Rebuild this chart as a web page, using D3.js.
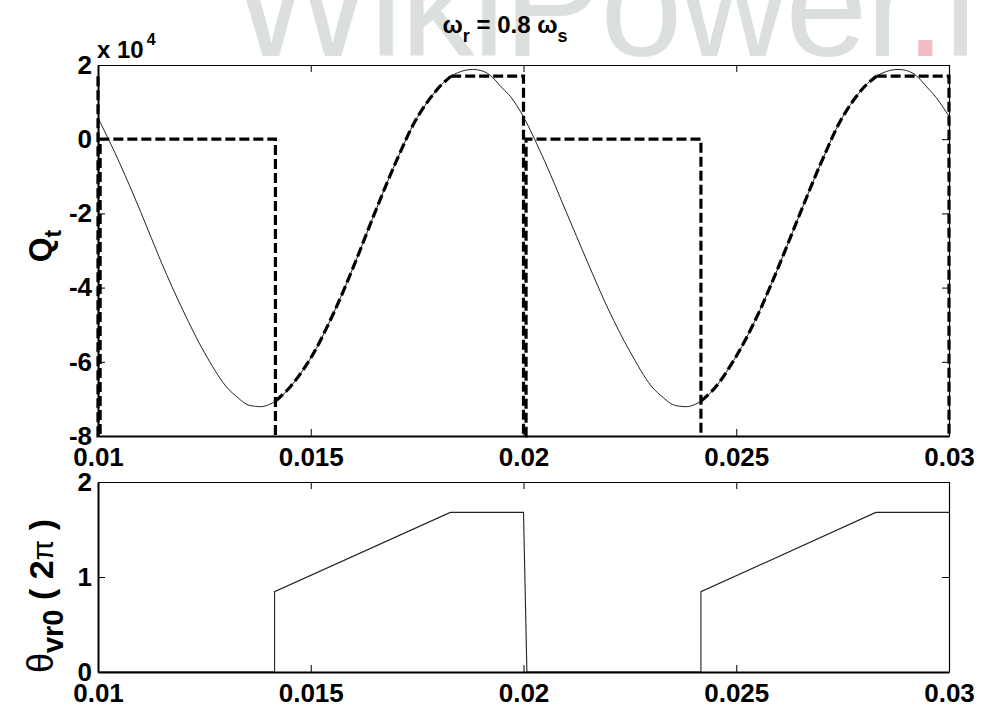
<!DOCTYPE html>
<html><head><meta charset="utf-8">
<script src="https://cdn.jsdelivr.net/npm/d3@7"></script>
<style>
body{margin:0;background:#fff}
svg{display:block}
</style>
</head><body>
<svg id="c" width="981" height="711"></svg>
<script>
// ---------------- data ----------------
const xTicks = [0.01, 0.015, 0.02, 0.025, 0.03];
const xTickLabels = ["0.01", "0.015", "0.02", "0.025", "0.03"];
const qTicks = [2, 0, -2, -4, -6, -8];
const thetaTicks = [0, 1, 2];

// Q_t (x 10^4), solid thin curve
const qT = [0.01, 0.0105, 0.011, 0.0115, 0.012, 0.0125, 0.013, 0.0133, 0.0135, 0.0137, 0.0139, 0.01417,
  0.0145, 0.015, 0.0155, 0.016, 0.0165, 0.017, 0.0175, 0.018, 0.0183, 0.0186, 0.0188, 0.019, 0.0192, 0.0195, 0.0197, 0.02,
  0.0205, 0.021, 0.0215, 0.022, 0.0225, 0.023, 0.0233, 0.0235, 0.0237, 0.0239, 0.02417,
  0.0245, 0.025, 0.0255, 0.026, 0.0265, 0.027, 0.0275, 0.028, 0.0283, 0.0286, 0.0288, 0.029, 0.0292, 0.0295, 0.0297, 0.03];
const qV = [0.58, -0.62, -1.95, -3.35, -4.62, -5.75, -6.65, -6.98, -7.15, -7.2, -7.2, -7.06,
  -6.7, -5.9, -4.78, -3.45, -2.0, -0.62, 0.58, 1.38, 1.70, 1.85, 1.88, 1.85, 1.74, 1.38, 1.14, 0.6,
  -0.6, -1.95, -3.3, -4.6, -5.72, -6.65, -6.98, -7.15, -7.2, -7.2, -7.06,
  -6.7, -5.85, -4.75, -3.42, -2.0, -0.62, 0.6, 1.4, 1.70, 1.85, 1.88, 1.85, 1.74, 1.38, 1.12, 0.62];

// Reference (thick dashed): step parts, and the curve-following windows
const refStepT = [
  [0.01, 0.01, 0.01005, 0.01005, 0.01417, 0.01417],
  [0.0183, 0.02, 0.02, 0.02006, 0.02006, 0.02417, 0.02417],
  [0.0283, 0.03, 0.03]
];
const refStepV = [
  [1.70, -8, -8, 0, 0, -8],
  [1.70, 1.70, -8, -8, 0, 0, -8],
  [1.70, 1.70, -8]
];
const refFollowStart = [0.01417, 0.02417];
const refFollowEnd = [0.0183, 0.0283];

// theta_vr0 in units of 2*pi
const thT = [0.01, 0.01415, 0.01415, 0.01828, 0.02, 0.02008, 0.02417, 0.02417, 0.02828, 0.03];
const thV = [0, 0, 0.845, 1.68, 1.68, 0, 0, 0.845, 1.68, 1.68];

// ---------------- layout ----------------
const svg = d3.select("#c");
const FONT = "'Liberation Sans', Arial, sans-serif";
const L = 98, R = 949;
const top1 = 65, bot1 = 436;
const top2 = 482, bot2 = 672;

const x = d3.scaleLinear().domain([0.01, 0.03]).range([L, R]);
const yQ = d3.scaleLinear().domain([-8, 2]).range([bot1, top1]);
const yT = d3.scaleLinear().domain([0, 2]).range([bot2, top2]);

// ---------------- watermark ----------------
const wm = svg.append("text")
  .attr("x", 232).attr("y", 56)
  .attr("font-family", "'Liberation Sans', Arial, sans-serif")
  .attr("font-size", 148)
  .attr("letter-spacing", -2)
  .attr("fill", "#dce0dc");
wm.append("tspan").text("WikiPower");
wm.append("tspan").attr("fill", "#f2bcc4").text(".");
wm.append("tspan").text("in");

// ---------------- helpers ----------------
function styleAxis(g, w) {
  g.attr("font-family", FONT).attr("font-size", 26).attr("font-weight", "bold");
  g.select(".domain").attr("stroke", "#000").attr("stroke-width", w);
  g.selectAll(".tick line").attr("stroke", "#000").attr("stroke-width", 1);
  g.selectAll(".tick text").attr("fill", "#000");
}

function frame(y, yTicks, yTop, yBot) {
  const gb = svg.append("g").attr("transform", `translate(0,${yBot})`)
    .call(d3.axisBottom(x).tickValues(xTicks).tickFormat((d, i) => xTickLabels[i])
      .tickSize(-7).tickSizeOuter(0).tickPadding(12));
  styleAxis(gb, 2);
  const gt = svg.append("g").attr("transform", `translate(0,${yTop})`)
    .call(d3.axisTop(x).tickValues(xTicks).tickFormat("").tickSize(-7).tickSizeOuter(0));
  styleAxis(gt, 1.2);
  const gl = svg.append("g").attr("transform", `translate(${L},0)`)
    .call(d3.axisLeft(y).tickValues(yTicks).tickFormat(d3.format("d")).tickSize(-7).tickSizeOuter(0).tickPadding(6));
  styleAxis(gl, 2);
  gl.selectAll(".tick text").text(d => d < 0 ? "-" + Math.abs(d) : d);
  const gr = svg.append("g").attr("transform", `translate(${R},0)`)
    .call(d3.axisRight(y).tickValues(yTicks).tickFormat("").tickSize(-7).tickSizeOuter(0));
  styleAxis(gr, 1.2);
}

// clip paths
const defs = svg.append("defs");
defs.append("clipPath").attr("id", "clip1").append("rect")
  .attr("x", L - 2).attr("y", top1 - 2).attr("width", R - L + 4).attr("height", bot1 - top1 + 4);
defs.append("clipPath").attr("id", "clip2").append("rect")
  .attr("x", L - 2).attr("y", top2 - 2).attr("width", R - L + 4).attr("height", bot2 - top2 + 4);

// ---------------- top plot ----------------
const qData = qT.map((t, i) => [t, qV[i]]);
const curveLine = d3.line().x(d => x(d[0])).y(d => yQ(d[1])).curve(d3.curveCatmullRom.alpha(0.5));
const linLine = d3.line().x(d => x(d[0])).y(d => yQ(d[1]));

const p1 = svg.append("g").attr("clip-path", "url(#clip1)");
p1.append("path").datum(qData).attr("d", curveLine)
  .attr("fill", "none").attr("stroke", "#222").attr("stroke-width", 1);

const dashStyle = sel => sel.attr("fill", "none").attr("stroke", "#000")
  .attr("stroke-width", 3.2).attr("stroke-dasharray", "10,4");
refStepT.forEach((ts, k) => {
  p1.append("path").datum(ts.map((t, i) => [t, refStepV[k][i]])).attr("d", linLine).call(dashStyle);
});
refFollowStart.forEach((s, k) => {
  const seg = qData.filter(d => d[0] >= s - 1e-9 && d[0] <= refFollowEnd[k] + 1e-9);
  p1.append("path").datum(seg).attr("d", curveLine).call(dashStyle);
});

frame(yQ, qTicks, top1, bot1);

// ---------------- bottom plot ----------------
const thLine = d3.line().x(d => x(d[0])).y(d => yT(d[1]));
svg.append("g").attr("clip-path", "url(#clip2)")
  .append("path").datum(thT.map((t, i) => [t, thV[i]])).attr("d", thLine)
  .attr("fill", "none").attr("stroke", "#222").attr("stroke-width", 1.1);

frame(yT, thetaTicks, top2, bot2);

// ---------------- texts ----------------
const title = svg.append("text").attr("x", 505).attr("y", 33)
  .attr("font-family", FONT).attr("font-size", 24).attr("font-weight", "bold").attr("text-anchor", "middle");
title.append("tspan").text("ω");
title.append("tspan").attr("font-size", 18).attr("dy", 9).text("r");
title.append("tspan").attr("dy", -9).text(" = 0.8 ω");
title.append("tspan").attr("font-size", 18).attr("dy", 9).text("s");

const mult = svg.append("text").attr("x", 97).attr("y", 58)
  .attr("font-family", FONT).attr("font-size", 24).attr("font-weight", "bold");
mult.append("tspan").text("x 10");
mult.append("tspan").attr("font-size", 16).attr("dy", -13).attr("dx", 3).text("4");

const yl1 = svg.append("text").attr("transform", "translate(51,246) rotate(-90)")
  .attr("font-family", FONT).attr("font-size", 32).attr("font-weight", "bold").attr("text-anchor", "middle");
yl1.append("tspan").text("Q");
yl1.append("tspan").attr("font-size", 23).attr("dy", 10).text("t");

const yl2 = svg.append("text").attr("transform", "translate(53,596) rotate(-90)")
  .attr("font-family", FONT).attr("font-size", 34).attr("font-weight", "bold").attr("text-anchor", "middle");
yl2.append("tspan").attr("font-weight", "normal").attr("font-size", 36).text("θ");
yl2.append("tspan").attr("font-size", 29).attr("dy", 10).text("vr0");
yl2.append("tspan").attr("dy", -10).text(" ( 2");
yl2.append("tspan").attr("font-weight", "normal").attr("font-size", 30).text("π");
yl2.append("tspan").text(" )");
</script>
</body></html>
